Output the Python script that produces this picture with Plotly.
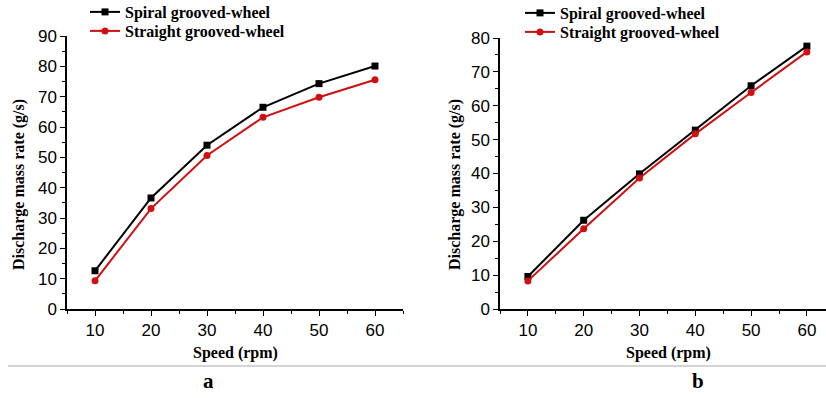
import plotly.graph_objects as go

W, H = 826, 398

speed = [10, 20, 30, 40, 50, 60]
# panel a
spiral_a = [12.6, 36.6, 54.0, 66.5, 74.3, 80.1]
straight_a = [9.3, 33.1, 50.6, 63.2, 69.8, 75.6]
# panel b
spiral_b = [9.6, 26.2, 39.9, 52.8, 65.9, 77.6]
straight_b = [8.3, 23.7, 38.7, 51.7, 63.9, 75.9]

names = ["Spiral grooved-wheel", "Straight grooved-wheel"]
panel_labels = ["a", "b"]
x_title = "Speed (rpm)"
y_title = "Discharge mass rate (g/s)"


def px(x):
    return x / W


def py(y):
    return (H - y) / H


fig = go.Figure()

styles = [
    dict(color="black", symbol="square", size=7),
    dict(color="#d01010", symbol="circle", size=7),
]

series = [(spiral_a, "", "legend"), (straight_a, "", "legend2"),
          (spiral_b, "2", "legend3"), (straight_b, "2", "legend4")]
for i, (ys, axn, leg) in enumerate(series):
    st = styles[i % 2]
    fig.add_trace(go.Scatter(
        x=speed, y=ys, mode="lines+markers", name="<b>" + names[i % 2] + "</b>",
        line=dict(color=st["color"], width=2),
        marker=dict(color=st["color"], symbol=st["symbol"], size=st["size"]),
        xaxis="x" + axn, yaxis="y" + axn, legend=leg,
    ))

tickfont = dict(family="Liberation Sans, Arial", size=17, color="black")
axis_common = dict(
    showline=True, linecolor="black", linewidth=1.5, mirror=False,
    ticks="outside", ticklen=5, tickwidth=1.2, tickcolor="black",
    showgrid=False, zeroline=False, tickfont=tickfont,
)

leg_font = dict(family="Liberation Serif, Times New Roman", size=16, color="black")


def legend_at(x, y):
    return dict(x=px(x), y=py(y), xanchor="left", yanchor="middle",
                bgcolor="rgba(0,0,0,0)", borderwidth=0, font=leg_font, itemwidth=30)


fig.update_layout(
    width=W, height=H,
    margin=dict(l=0, r=0, t=0, b=0, autoexpand=False),
    paper_bgcolor="white", plot_bgcolor="white",
    xaxis=dict(domain=[px(67), px(403)], range=[5, 65], anchor="y", dtick=10, tick0=0,
               minor=dict(dtick=5, tick0=0, ticks="outside", ticklen=3, tickcolor="black"),
               **axis_common),
    yaxis=dict(domain=[py(309), py(36)], range=[0, 90], anchor="x", dtick=10,
               minor=dict(dtick=5, ticks="outside", ticklen=3, tickcolor="black"),
               **axis_common),
    xaxis2=dict(domain=[px(500), 1.0], range=[5, 5 + 326 / 5.58], anchor="y2", dtick=10, tick0=0,
                minor=dict(dtick=5, tick0=0, ticks="outside", ticklen=3, tickcolor="black"),
                **axis_common),
    yaxis2=dict(domain=[py(309), py(38)], range=[0, 80], anchor="x2", dtick=10,
                minor=dict(dtick=5, ticks="outside", ticklen=3, tickcolor="black"),
                **axis_common),
    legend=legend_at(85, 12),
    legend2=legend_at(85, 31),
    legend3=legend_at(520, 13),
    legend4=legend_at(520, 32),
    showlegend=True,
)

title_font = dict(family="Liberation Serif, Times New Roman", size=16, color="black")
annotations = []
for cx, cy, lbl in [(235, 353, x_title), (668, 353, x_title)]:
    annotations.append(dict(x=px(cx), y=py(cy), xref="paper", yref="paper", text="<b>" + lbl + "</b>",
                            showarrow=False, xanchor="center", yanchor="middle", font=title_font))
for cx, cy in [(19, 185), (455, 185)]:
    annotations.append(dict(x=px(cx), y=py(cy), xref="paper", yref="paper", text="<b>" + y_title + "</b>",
                            showarrow=False, xanchor="center", yanchor="middle", textangle=-90,
                            font=title_font))
for cx, lbl in [(209, panel_labels[0]), (698, panel_labels[1])]:
    annotations.append(dict(x=px(cx), y=py(381), xref="paper", yref="paper", text="<b>" + lbl + "</b>",
                            showarrow=False, xanchor="center", yanchor="middle",
                            font=dict(family="Liberation Serif, Times New Roman", size=21, color="black")))
fig.update_layout(annotations=annotations)

fig.add_shape(type="line", xref="paper", yref="paper", x0=px(8), x1=1.0, y0=py(366), y1=py(366),
              line=dict(color="#d4d4d4", width=2))

fig.write_html("out.html")
